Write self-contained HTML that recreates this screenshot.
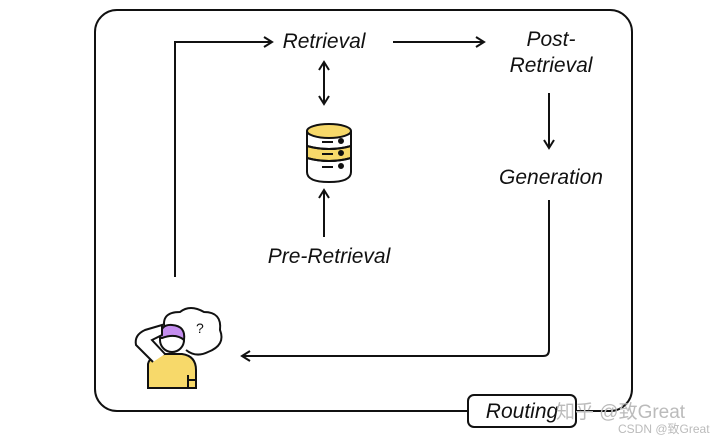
<!DOCTYPE html>
<html><head><style>
body{margin:0;background:#fff;}
svg text{font-family:"Liberation Sans",sans-serif;font-style:italic;font-size:21px;fill:#111;}
</style></head><body>
<svg width="720" height="439" viewBox="0 0 720 439" xmlns="http://www.w3.org/2000/svg">
<defs><marker id="a" markerWidth="12" markerHeight="12" refX="10" refY="6" orient="auto-start-reverse" markerUnits="userSpaceOnUse"><path d="M2,1 L10,6 L2,11" fill="none" stroke="#111" stroke-width="2"/></marker></defs>
<rect x="95" y="10" width="537" height="401" rx="22" fill="none" stroke="#111" stroke-width="2"/>
<g fill="none" stroke="#111" stroke-width="2">
<path d="M175,277 V42 H272" marker-end="url(#a)"/>
<path d="M393,42 H484" marker-end="url(#a)"/>
<path d="M549,93 V148" marker-end="url(#a)"/>
<path d="M549,200 V350 Q549,356 543,356 H242" marker-end="url(#a)"/>
<path d="M324,62 V104" marker-end="url(#a)" marker-start="url(#a)"/>
<path d="M324,237 V190" marker-end="url(#a)"/>
</g>
<text x="324" y="48" text-anchor="middle">Retrieval</text>
<text x="551" y="46" text-anchor="middle">Post-</text>
<text x="551" y="72" text-anchor="middle">Retrieval</text>
<text x="551" y="184" text-anchor="middle">Generation</text>
<text x="329" y="263" text-anchor="middle">Pre-Retrieval</text>
<!-- database -->
<g stroke="#111" stroke-width="2">
<path d="M307,131 V172 Q307,182 329,182 Q351,182 351,172 V131" fill="#fff"/>
<path d="M307,146 Q329,152 351,146 V158 Q329,164 307,158 Z" fill="#f7d96a"/>
<ellipse cx="329" cy="131" rx="22" ry="7" fill="#f7d96a"/>
<path d="M307,146 Q329,152 351,146 M307,158 Q329,164 351,158" fill="none"/>
<path d="M322,142 H333 M322,154 H333 M322,167 H333" />
<circle cx="341" cy="141" r="2" fill="#111"/><circle cx="341" cy="153" r="2" fill="#111"/><circle cx="341" cy="166" r="2" fill="#111"/>
</g>
<!-- person -->
<g stroke="#111" stroke-width="2">
<path d="M165,330 Q160,312 180,312 Q190,304 204,312 Q222,312 220,330 Q226,345 208,352 Q196,358 186,350" fill="#fff"/>
<path d="M148,388 V364 Q150,355 165,354 H182 Q196,356 196,370 V388 Z" fill="#f7d96a"/>
<path d="M188,375 V388 M188,380 H196" fill="none"/>
<circle cx="172" cy="340" r="12" fill="#fff"/>
<path d="M160,338 Q160,324 172,325 Q186,326 184,340 Q176,333 162,338 Z" fill="#c58ef0"/>
<path d="M153,362 L136,345 Q134,335 145,330 L162,325 L162,335 L152,340 L165,354" fill="#fff"/>
</g>
<text x="196" y="333" style="font-size:14px;font-style:normal">?</text>
<rect x="468" y="395" width="108" height="32" rx="6" fill="#fff" stroke="#111" stroke-width="2"/>
<text x="522" y="418" text-anchor="middle">Routing</text>
<text x="556" y="418" style="font-style:normal;fill:#bbb;font-size:19px" font-family="Liberation Sans, Noto Sans CJK SC, sans-serif">知乎 @致Great</text>
<text x="618" y="433" style="font-style:normal;fill:#bbb;font-size:12px" font-family="Liberation Sans, Noto Sans CJK SC, sans-serif">CSDN @致Great</text>
</svg>
</body></html>
